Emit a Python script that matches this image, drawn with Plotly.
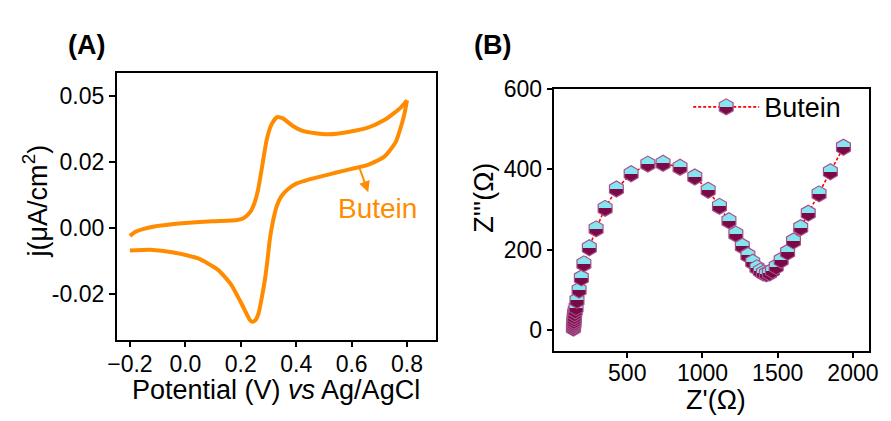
import plotly.graph_objects as go

W, H = 891, 421

# ---------------- Panel A: cyclic voltammogram ----------------
e_fwd = [-0.200, -0.180, -0.150, -0.107, -0.050, 0.000, 0.100, 0.188, 0.211, 0.235,
         0.250, 0.262, 0.276, 0.294, 0.311, 0.331, 0.352, 0.388, 0.423, 0.470,
         0.517, 0.588, 0.659, 0.718, 0.753, 0.780, 0.800]
j_fwd = [-0.0024, -0.0011, -0.0002, 0.0006, 0.0012, 0.0016, 0.0021, 0.0025, 0.0031, 0.0050,
         0.0078, 0.0115, 0.0182, 0.0270, 0.0315, 0.0337, 0.0333, 0.0310, 0.0295, 0.0288,
         0.0285, 0.0292, 0.0305, 0.0328, 0.0349, 0.0368, 0.0388]

e_rev = [0.800, 0.790, 0.782, 0.759, 0.718, 0.659, 0.600, 0.541, 0.447, 0.400,
         0.370, 0.345, 0.329, 0.315, 0.305, 0.297, 0.288, 0.276, 0.264, 0.252,
         0.241, 0.232, 0.222, 0.200, 0.164, 0.117, 0.046, -0.048, -0.119, -0.200]
j_rev = [0.0388, 0.0345, 0.0319, 0.0261, 0.0217, 0.0192, 0.0180, 0.0168, 0.0148, 0.0135,
         0.0118, 0.0095, 0.0065, 0.0016, -0.0033, -0.0092, -0.0151, -0.0210, -0.0259, -0.0280,
         -0.0284, -0.0278, -0.0262, -0.0225, -0.0170, -0.0126, -0.0092, -0.0073, -0.0066, -0.0068]

a_xticks = [-0.2, 0.0, 0.2, 0.4, 0.6, 0.8]
a_yticks = [-0.02, 0.0, 0.02, 0.04]
a_ytext = ["-0.02", "0.00", "0.02", "0.05"]

# ---------------- Panel B: Nyquist plot ----------------
z_re = [142, 143, 144, 145, 146, 147, 148, 150, 154, 160, 166, 180, 195, 212, 248, 293,
        353, 428, 526, 637, 738, 851, 949, 1038, 1113, 1176, 1222, 1265, 1302, 1334,
        1362, 1385, 1405, 1425, 1445, 1465, 1490, 1523, 1566, 1605, 1653, 1703, 1775,
        1850, 1937]
z_im = [5, 9, 13, 17, 22, 28, 34, 41, 48, 56, 74, 100, 130, 165, 205, 252,
        303, 351, 389, 413, 415, 405, 381, 348, 308, 272, 239, 209, 186, 169,
        155, 147, 142, 140, 142, 148, 158, 174, 194, 222, 255, 291, 339,
        394, 455]
b_xticks = [500, 1000, 1500, 2000]
b_yticks = [0, 200, 400, 600]

ORANGE = "#FF8C00"
CYAN = "#84E6EE"
MAROON = "#7A0A45"
FONT = "Liberation Sans, Arial, sans-serif"

fig = go.Figure()
fig.add_trace(go.Scatter(x=e_fwd, y=j_fwd, mode="lines", xaxis="x", yaxis="y",
                         line=dict(color=ORANGE, width=4, shape="spline", smoothing=0.6),
                         showlegend=False))
fig.add_trace(go.Scatter(x=e_rev, y=j_rev, mode="lines", xaxis="x", yaxis="y",
                         line=dict(color=ORANGE, width=4, shape="spline", smoothing=0.6),
                         showlegend=False))
fig.add_trace(go.Scatter(x=z_re, y=z_im, mode="lines+markers", xaxis="x2", yaxis="y2",
                         name="Butein",
                         line=dict(color="#FF0000", width=1.6, dash="3px,2px"),
                         marker=dict(symbol="hexagon", size=16, color=MAROON,
                                     gradient=dict(type="vertical", color=CYAN),
                                     line=dict(color="#A8508C", width=1.2))))

def px2x(p):
    return p / W

def px2y(p):
    return 1 - p / H

axis_common = dict(showline=True, linecolor="black", linewidth=1.6, mirror=True,
                   ticks="outside", ticklen=6, tickwidth=1.6, tickcolor="black",
                   showgrid=False, zeroline=False,
                   tickfont=dict(family=FONT, size=23, color="black"))

fig.update_layout(
    width=W, height=H,
    margin=dict(l=0, r=0, t=0, b=0),
    paper_bgcolor="white", plot_bgcolor="white",
    xaxis=dict(domain=[px2x(110), px2x(436)], range=[-0.248, 0.9035],
               tickvals=a_xticks, tickformat=".1f", anchor="y",
               ticklabelstandoff=-3, **axis_common),
    yaxis=dict(domain=[px2y(337), px2y(62)], range=[-0.03382, 0.04706],
               tickvals=a_yticks, ticktext=a_ytext, anchor="x", **axis_common),
    xaxis2=dict(domain=[px2x(557.3), px2x(878.3)], range=[16, 2104],
                tickvals=b_xticks, anchor="y2", ticklabelstandoff=-5, **axis_common),
    yaxis2=dict(domain=[px2y(348.3), px2y(78.3)], range=[-50.6, 600],
                tickvals=b_yticks, anchor="x2", **axis_common),
    showlegend=True,
    legend=dict(x=px2x(694), y=px2y(72), xanchor="left", yanchor="top",
                itemwidth=66,
                bgcolor="rgba(0,0,0,0)", font=dict(family=FONT, size=27, color="black")),
)

ann = [
    dict(text="<b>(A)</b>", x=px2x(79), y=px2y(33), size=27),
    dict(text="<b>(B)</b>", x=px2x(494), y=px2y(33), size=27),
    dict(text="Potential (V) <i>vs</i> Ag/AgCl", x=px2x(273), y=px2y(389), size=27),
    dict(text="Z'(\u03a9)", x=px2x(722), y=px2y(399), size=27),
]
for a in ann:
    fig.add_annotation(text=a["text"], x=a["x"], y=a["y"], xref="paper", yref="paper",
                       xanchor="center", yanchor="middle", showarrow=False,
                       font=dict(family=FONT, size=a["size"], color="black"))
fig.add_annotation(text="j(\u03bcA/cm<sup>2</sup>)", x=px2x(27), y=px2y(194),
                   xref="paper", yref="paper", xanchor="center", yanchor="middle",
                   showarrow=False, textangle=-90,
                   font=dict(family=FONT, size=27, color="black"))
fig.add_annotation(text="Z'''(\u03a9)", x=px2x(485), y=px2y(191),
                   xref="paper", yref="paper", xanchor="center", yanchor="middle",
                   showarrow=False, textangle=-90,
                   font=dict(family=FONT, size=27, color="black"))
# "Butein" label and arrow in panel A
fig.add_annotation(text="Butein", x=0.695, y=0.0059, xref="x", yref="y",
                   showarrow=False, font=dict(family=FONT, size=28, color=ORANGE))
fig.add_annotation(text="", x=0.66, y=0.0109, xref="x", yref="y",
                   ax=-9, ay=-25, showarrow=True, arrowhead=2, arrowsize=1.1,
                   arrowwidth=2, arrowcolor=ORANGE)

post = """
var gd = document.getElementById('{plot_id}');
function fixGrad(){
  document.querySelectorAll('linearGradient').forEach(function(g){
    g.setAttribute('x1','0'); g.setAttribute('y1','0');
    g.setAttribute('x2','0'); g.setAttribute('y2','1');
    while(g.firstChild){ g.removeChild(g.firstChild); }
    [['0','%s'],['0.5','%s'],['0.5','%s'],['1','%s']].forEach(function(s){
      var st = document.createElementNS('http://www.w3.org/2000/svg','stop');
      st.setAttribute('offset', s[0]); st.setAttribute('stop-color', s[1]);
      g.appendChild(st);
    });
  });
}
fixGrad();
if (gd && gd.on) { gd.on('plotly_afterplot', fixGrad); }
""" % (CYAN, CYAN, MAROON, MAROON)

fig.write_html("out.html", post_script=post)
